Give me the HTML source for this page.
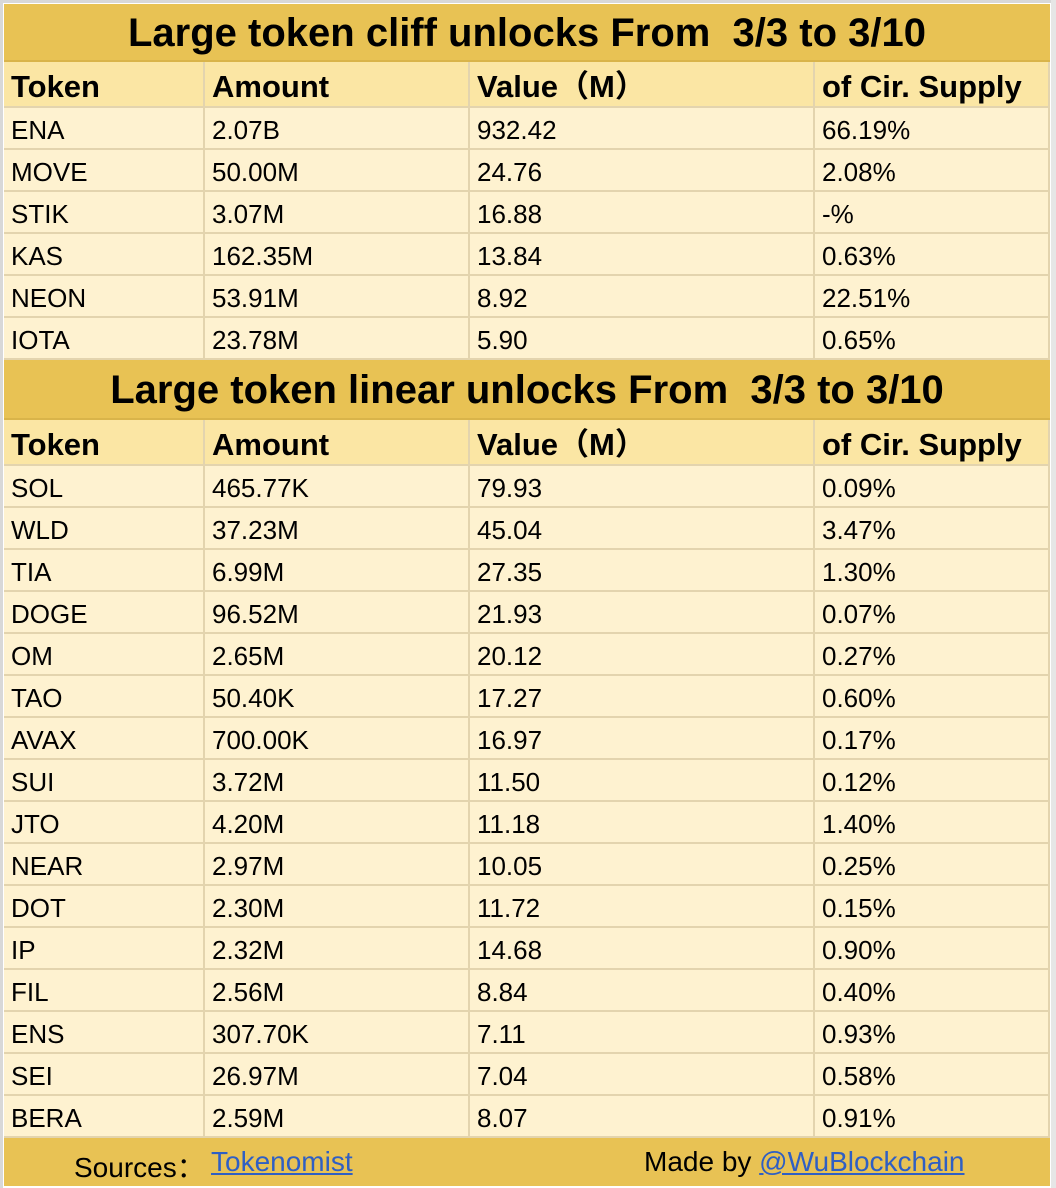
<!DOCTYPE html>
<html><head><meta charset="utf-8"><style>
body{margin:0;width:1056px;height:1188px;background:#fff;position:relative;overflow:hidden;font-family:"Liberation Sans",Arial,"Noto Sans CJK SC",sans-serif;}
.r{position:absolute;left:4px;width:1046px;box-sizing:border-box;}
.c{position:absolute;top:0;bottom:0;box-sizing:border-box;border-right:2px solid #e3d4ae;border-bottom:2px solid #e3d4ae;padding-left:7px;padding-top:4px;display:flex;align-items:center;color:#000;white-space:pre;line-height:1;}
.title{background:#e8c254;font-weight:bold;font-size:40px;display:flex;align-items:center;justify-content:center;border-bottom:2px solid #d9b44a;white-space:pre;padding-top:2px;}
.hdr .c{background:#fbe6a4;font-weight:bold;font-size:31px;}
.dat .c{background:#fef2d0;font-size:26px;}
.foot{background:#e8c254;font-size:28px;}
a{color:#2f5fc4;text-decoration:underline;}
</style></head><body>
<div style="position:absolute;left:0;top:0;width:1056px;height:3px;background:#d8d8d8"></div>
<div style="position:absolute;left:0;top:0;width:3px;height:1188px;background:#d8d8d8"></div>
<div style="position:absolute;left:1051px;top:0;width:5px;height:1188px;background:#e6e6e6"></div>
<div id="tbl"></div>
<div class="r foot" style="top:1138px;height:48px;">
<span style="position:absolute;left:70px;top:8px">Sources：</span>
<a style="position:absolute;left:207px;top:8px">Tokenomist</a>
<span style="position:absolute;left:640px;top:8px">Made by <a>@WuBlockchain</a></span>
</div>
<script>
const colX=[0,201,466,811,1046];
const headers=["Token","Amount","Value（M）","of Cir. Supply"];
const cliffTokens=["ENA","MOVE","STIK","KAS","NEON","IOTA"];
const cliffAmount=["2.07B","50.00M","3.07M","162.35M","53.91M","23.78M"];
const cliffValue=["932.42","24.76","16.88","13.84","8.92","5.90"];
const cliffSupply=["66.19%","2.08%","-%","0.63%","22.51%","0.65%"];
const linTokens=["SOL","WLD","TIA","DOGE","OM","TAO","AVAX","SUI","JTO","NEAR","DOT","IP","FIL","ENS","SEI","BERA"];
const linAmount=["465.77K","37.23M","6.99M","96.52M","2.65M","50.40K","700.00K","3.72M","4.20M","2.97M","2.30M","2.32M","2.56M","307.70K","26.97M","2.59M"];
const linValue=["79.93","45.04","27.35","21.93","20.12","17.27","16.97","11.50","11.18","10.05","11.72","14.68","8.84","7.11","7.04","8.07"];
const linSupply=["0.09%","3.47%","1.30%","0.07%","0.27%","0.60%","0.17%","0.12%","1.40%","0.25%","0.15%","0.90%","0.40%","0.93%","0.58%","0.91%"];
const tbl=document.getElementById('tbl');
function title(text,top,h){
  const d=document.createElement('div');d.className='r title';
  
  
  d.style.top=top+'px';d.style.height=h+'px';d.textContent=text;tbl.appendChild(d);
}
function row(cells,top,h,cls){
  const d=document.createElement('div');d.className='r '+cls;
  
  
  d.style.top=top+'px';d.style.height=h+'px';
  cells.forEach((t,i)=>{const c=document.createElement('div');c.className='c';
    
    
    c.style.left=colX[i]+'px';c.style.width=(colX[i+1]-colX[i])+'px';c.textContent=t;d.appendChild(c);});
  tbl.appendChild(d);
}
title("Large token cliff unlocks From  3/3 to 3/10",4,58);
row(headers,62,46,'hdr');
let y=108;
cliffTokens.forEach((t,i)=>{row([t,cliffAmount[i],cliffValue[i],cliffSupply[i]],y,42,'dat');y+=42;});
title("Large token linear unlocks From  3/3 to 3/10",y,60);y+=60;
row(headers,y,46,'hdr');y+=46;
linTokens.forEach((t,i)=>{row([t,linAmount[i],linValue[i],linSupply[i]],y,42,'dat');y+=42;});
</script>
</body></html>
